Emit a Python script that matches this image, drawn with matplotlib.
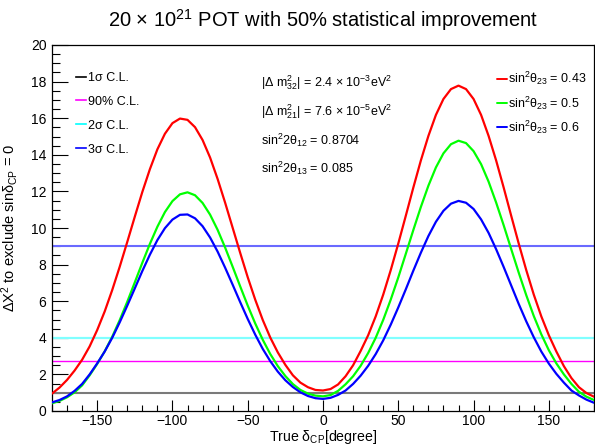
import numpy as np
import matplotlib
matplotlib.use('Agg')
import matplotlib.pyplot as plt

plt.rcParams['font.family'] = ['Liberation Sans', 'DejaVu Sans']
plt.rcParams['mathtext.fontset'] = 'custom'
plt.rcParams['mathtext.rm'] = 'Liberation Sans'
plt.rcParams['mathtext.it'] = 'Liberation Sans:italic'
plt.rcParams['mathtext.bf'] = 'Liberation Sans:bold'

# true delta_CP grid (degrees)
delta_cp = np.arange(-180, 185, 5)

# delta chi2 to exclude sin(delta_CP) = 0
chi2_s043 = [0.95, 1.28, 1.70, 2.21, 2.80, 3.53, 4.42, 5.44, 6.61, 7.89,
             9.24, 10.62, 11.97, 13.21, 14.30, 15.15, 15.73, 15.98, 15.91, 15.51,
             14.81, 13.85, 12.68, 11.38, 10.01, 8.64, 7.31, 6.08, 4.97, 4.01,
             3.20, 2.52, 1.95, 1.55, 1.30, 1.15, 1.12, 1.20, 1.45, 1.90,
             2.50, 3.28, 4.14, 5.17, 6.36, 7.70, 9.15, 10.67, 12.21, 13.69,
             15.03, 16.18, 17.05, 17.59, 17.78, 17.59, 17.05, 16.18, 15.03, 13.69,
             12.21, 10.67, 9.15, 7.70, 6.36, 5.17, 4.14, 3.25, 2.45, 1.80,
             1.30, 0.98, 0.78]
chi2_s050 = [0.42, 0.55, 0.75, 1.02, 1.40, 1.95, 2.57, 3.26, 4.06, 4.97,
             5.97, 7.03, 8.10, 9.13, 10.07, 10.87, 11.47, 11.84, 11.95, 11.79,
             11.37, 10.73, 9.90, 8.93, 7.88, 6.81, 5.76, 4.78, 3.89, 3.11,
             2.45, 1.91, 1.47, 1.15, 0.95, 0.84, 0.80, 0.87, 1.10, 1.46,
             1.90, 2.47, 3.17, 4.00, 4.98, 6.09, 7.30, 8.59, 9.89, 11.15,
             12.31, 13.31, 14.08, 14.58, 14.77, 14.64, 14.20, 13.49, 12.53, 11.39,
             10.15, 8.85, 7.56, 6.33, 5.19, 4.19, 3.32, 2.60, 2.00, 1.48,
             1.05, 0.78, 0.60]
chi2_s060 = [0.47, 0.60, 0.80, 1.10, 1.48, 2.00, 2.60, 3.25, 4.00, 4.85,
             5.76, 6.70, 7.65, 8.54, 9.34, 9.99, 10.46, 10.72, 10.74, 10.53,
             10.10, 9.48, 8.71, 7.83, 6.90, 5.95, 5.03, 4.17, 3.39, 2.72,
             2.15, 1.68, 1.31, 1.02, 0.82, 0.70, 0.66, 0.72, 0.88, 1.12,
             1.48, 1.93, 2.47, 3.11, 3.86, 4.72, 5.66, 6.65, 7.67, 8.65,
             9.56, 10.34, 10.94, 11.33, 11.48, 11.38, 11.04, 10.47, 9.73, 8.84,
             7.87, 6.86, 5.85, 4.90, 4.03, 3.25, 2.59, 2.03, 1.55, 1.12,
             0.85, 0.62, 0.45]

curve_labels = [r'sin$^{2}$θ$_{23}$ = 0.43', r'sin$^{2}$θ$_{23}$ = 0.5', r'sin$^{2}$θ$_{23}$ = 0.6']
curve_colors = ['#ff0000', '#00ff00', '#0000ff']

# confidence level lines
cl_values = [1.0, 2.71, 4.0, 9.0]
cl_labels = ['1σ C.L.', '90% C.L.', '2σ C.L.', '3σ C.L.']
cl_colors = ['#7a7a7a', '#ff00ff', '#80ffff', '#6a6aff']
cl_legend_colors = ['black', '#ff00ff', '#00ffff', '#0000ff']
cl_widths = [1.5, 1.0, 1.6, 1.5]

params = [r'|Δ m$^{2}_{32}$| = 2.4 × 10$^{-3}$eV$^{2}$',
          r'|Δ m$^{2}_{21}$| = 7.6 × 10$^{-5}$eV$^{2}$',
          r'sin$^{2}$2θ$_{12}$ = 0.8704',
          r'sin$^{2}$2θ$_{13}$ = 0.085']

fig = plt.figure(figsize=(5.95, 4.45), dpi=100)
ax = fig.add_axes([52 / 595, 34 / 445, 542 / 595, 366 / 445])

cl_lines = []
for v, lab, c, w in zip(cl_values, cl_labels, cl_colors, cl_widths):
    ln = ax.axhline(v, color=c, lw=w, label=lab, zorder=2)
    cl_lines.append(ln)

curve_lines = []
for y, lab, c in zip([chi2_s043, chi2_s050, chi2_s060], curve_labels, curve_colors):
    ln, = ax.plot(delta_cp, y, color=c, lw=1.6, label=lab, zorder=3,
                  solid_joinstyle='round', solid_capstyle='round')
    curve_lines.append(ln)

ax.set_xlim(-180, 180)
ax.set_ylim(0, 20)
ax.set_xticks(np.arange(-150, 151, 50))
ax.set_xticks(np.arange(-180, 181, 10), minor=True)
ax.set_yticks(np.arange(0, 21, 2))
ax.set_yticks(np.arange(0, 20.1, 0.5), minor=True)
ax.tick_params(axis='both', which='both', direction='in', width=0.8, labelsize=10)
ax.tick_params(axis='x', which='major', length=8, pad=2)
ax.tick_params(axis='x', which='minor', length=4)
ax.tick_params(axis='y', which='major', length=11.5, pad=4)
ax.tick_params(axis='y', which='minor', length=5.8)
for sp in ax.spines.values():
    sp.set_linewidth(0.9)

ax.set_xlabel(r'True δ$_{\mathrm{CP}}$[degree]', fontsize=10.2, labelpad=0)
ax.set_ylabel(r'ΔX$^{2}$ to exclude sinδ$_{\mathrm{CP}}$ = 0', fontsize=10.5, labelpad=8)
ax.set_title(r'20 × 10$^{21}$ POT with 50% statistical improvement', fontsize=14.5, pad=13)

leg1 = ax.legend(handles=cl_lines, loc='upper left', bbox_to_anchor=(0.035, 0.94),
                 frameon=False, fontsize=9, handlelength=0.8, handletextpad=0.15,
                 labelspacing=0.95, borderaxespad=0)
for h, c in zip(leg1.get_lines(), cl_legend_colors):
    h.set_color(c)
    h.set_linewidth(1.2)
ax.add_artist(leg1)

leg2 = ax.legend(handles=curve_lines, loc='upper left', bbox_to_anchor=(0.811, 0.945),
                 frameon=False, fontsize=9, handlelength=0.8, handletextpad=0.15,
                 labelspacing=0.55, borderaxespad=0)
for h in leg2.get_lines():
    h.set_linewidth(1.4)

row_y = [17.95, 16.35, 14.78, 13.24]
for t, yy in zip(params, row_y):
    ax.text(-41, yy, t, fontsize=9, ha='left', va='center')

fig.savefig('out.png', dpi=100)
